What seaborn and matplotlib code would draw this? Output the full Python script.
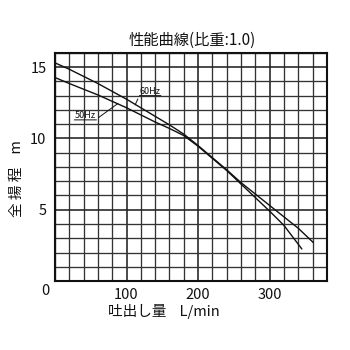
import matplotlib
matplotlib.use("Agg")
import matplotlib.pyplot as plt
import numpy as np
import pandas as pd
import seaborn as sns

# ---- data ----
flow_60 = [0, 20, 40, 60, 80, 100, 120, 140, 160, 180, 200, 220, 240, 260, 280, 300, 320, 340, 361]
head_60 = [15.3, 14.85, 14.35, 13.85, 13.3, 12.75, 12.15, 11.55, 10.95, 10.3, 9.5, 8.65, 7.8, 6.9, 6.1, 5.3, 4.5, 3.7, 2.7]
flow_50 = [0, 20, 40, 60, 80, 100, 120, 140, 160, 180, 200, 220, 240, 260, 280, 300, 320, 345]
head_50 = [14.27, 13.85, 13.45, 13.05, 12.6, 12.15, 11.65, 11.15, 10.7, 10.2, 9.45, 8.6, 7.75, 6.8, 5.85, 4.9, 3.9, 2.25]

x_ticks = [100, 200, 300]
y_ticks = [5, 10, 15]
title = "性能曲線(比重:1.0)"
x_label = "吐出し量    L/min"
y_label = "全 揚 程    m"

df = pd.concat([
    pd.DataFrame({"flow": flow_60, "head": head_60, "freq": "60Hz"}),
    pd.DataFrame({"flow": flow_50, "head": head_50, "freq": "50Hz"}),
])

sns.set_theme(style="white")
plt.rcParams["font.family"] = ["Noto Sans CJK JP", "DejaVu Sans"]

fig = plt.figure(figsize=(3.5, 3.5), dpi=100)
ax = fig.add_axes([0.157, 0.197, 0.777, 0.652])

sns.lineplot(data=df, x="flow", y="head", hue="freq", palette=["#111111", "#111111"],
             legend=False, linewidth=1.0, ax=ax, sort=False, estimator=None)

ax.set_xlim(0, 380)
ax.set_ylim(0, 16)

# grid
ax.set_xticks(np.arange(0, 381, 20), minor=True)
ax.set_yticks(np.arange(0, 17, 1), minor=True)
ax.grid(which="minor", color="#333333", linewidth=0.95)
ax.set_axisbelow(True)
ax.set_xticks(x_ticks)
ax.set_yticks(y_ticks)
ax.grid(which="major", color="#222222", linewidth=1.15)
ax.tick_params(which="minor", length=0)
ax.tick_params(axis="x", which="major", length=0, labelsize=10.5, pad=5, colors="#111111")
ax.tick_params(axis="y", which="major", length=3, width=1, labelsize=10.5, pad=3, colors="#111111")
for s in ax.spines.values():
    s.set_color("#111111")
    s.set_linewidth(1.5)

ax.text(-0.02, -0.012, "0", transform=ax.transAxes, ha="right", va="top",
        fontsize=10.5, color="#111111")

ax.set_xlabel(x_label, fontsize=10.5, color="#111111")
ax.xaxis.set_label_coords(0.40, -0.10)
ax.set_ylabel(y_label, fontsize=10.5, color="#111111")
ax.yaxis.set_label_coords(-0.115, 0.45)
fig.text(0.55, 0.885, title, ha="center", va="center", fontsize=11, color="#111111")

# curve labels with leader lines
ax.annotate("60Hz", xy=(112, 12.35), xytext=(118, 13.0), fontsize=6.5, color="#111111",
            ha="left", va="bottom",
            arrowprops=dict(arrowstyle="-", color="#111111", lw=0.7, relpos=(0, 0),
                            shrinkA=0, shrinkB=0))
ax.annotate("", xy=(148, 13.0), xytext=(118, 13.0),
            arrowprops=dict(arrowstyle="-", color="#111111", lw=0.7, shrinkA=0, shrinkB=0))
ax.annotate("50Hz", xy=(88, 12.45), xytext=(27, 11.3), fontsize=6.5, color="#111111",
            ha="left", va="bottom",
            arrowprops=dict(arrowstyle="-", color="#111111", lw=0.7, relpos=(1, 0),
                            shrinkA=0, shrinkB=0))
ax.annotate("", xy=(27, 11.3), xytext=(58, 11.3),
            arrowprops=dict(arrowstyle="-", color="#111111", lw=0.7, shrinkA=0, shrinkB=0))

fig.savefig("out.png", dpi=100, facecolor="white")
